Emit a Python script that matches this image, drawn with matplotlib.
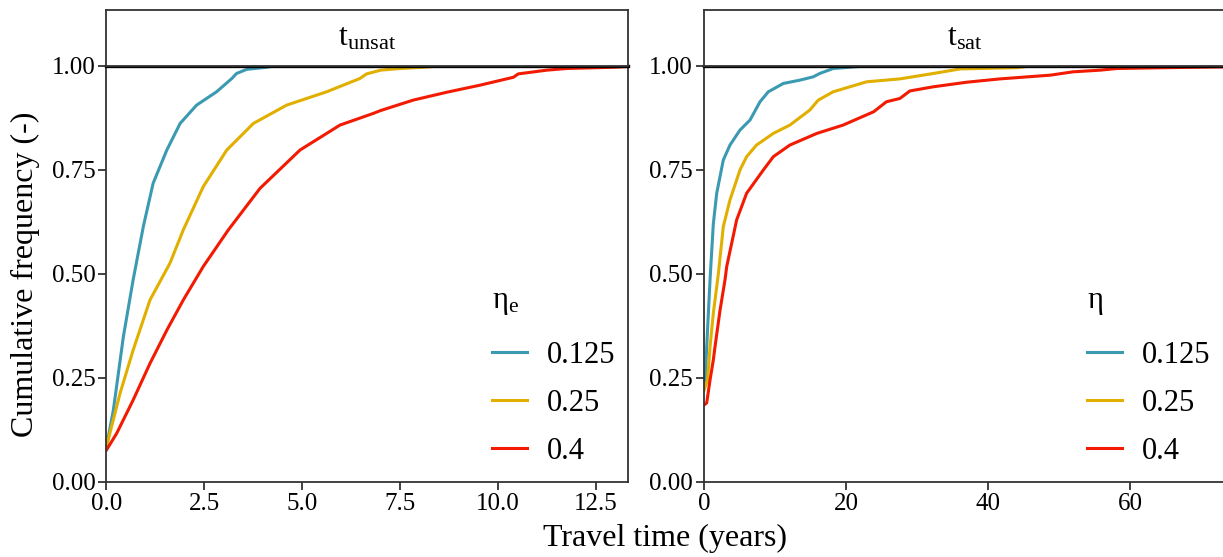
import numpy as np
import matplotlib
matplotlib.use("Agg")
import matplotlib.pyplot as plt

plt.rcParams['font.family'] = ['Liberation Serif', 'DejaVu Serif']
plt.rcParams['mathtext.fontset'] = 'custom'
plt.rcParams['mathtext.rm'] = 'Liberation Serif'
plt.rcParams['mathtext.it'] = 'Liberation Serif:italic'

# cumulative travel time curves, unsaturated zone (years, fraction)
unsat_t_0125 = [0.0, 0.175, 0.43, 0.68, 0.94, 1.19, 1.54, 1.88, 2.30, 2.81, 3.20, 3.32, 3.58, 4.09, 4.3, 13.4]
unsat_F_0125 = [0.085, 0.173, 0.349, 0.486, 0.614, 0.718, 0.798, 0.862, 0.906, 0.938, 0.970, 0.982, 0.992, 0.997, 1.0, 1.0]
unsat_t_025 = [0.0, 0.345, 0.68, 1.11, 1.62, 1.96, 2.47, 3.07, 3.75, 4.60, 5.62, 6.47, 6.64, 7.0, 7.49, 8.1, 8.5, 13.4]
unsat_F_025 = [0.085, 0.213, 0.317, 0.4375, 0.526, 0.606, 0.71, 0.798, 0.862, 0.906, 0.938, 0.970, 0.981, 0.990, 0.994, 0.997, 1.0, 1.0]
unsat_t_04 = [0.0, 0.26, 0.68, 1.11, 1.54, 1.96, 2.47, 3.11, 3.92, 4.94, 5.96, 6.81, 7.0, 7.83, 8.69,
              9.54, 10.39, 10.51, 11.24, 11.75, 12.94, 13.4]
unsat_F_04 = [0.077, 0.117, 0.197, 0.285, 0.365, 0.4375, 0.518, 0.606, 0.706, 0.798, 0.858, 0.886, 0.893, 0.918, 0.937,
              0.954, 0.973, 0.981, 0.990, 0.994, 0.997, 0.999]

# saturated zone
sat_t_0125 = [0.0, 0.19, 0.38, 0.85, 1.31, 1.79, 2.72, 3.66, 5.07, 6.48, 7.89, 9.06, 11.17, 13.5, 15.4, 16.3, 18.2, 22.0, 24.0, 74.0]
sat_F_0125 = [0.24, 0.25, 0.325, 0.486, 0.62, 0.694, 0.774, 0.81, 0.846, 0.87, 0.914, 0.938, 0.958, 0.966, 0.974, 0.982, 0.994, 0.999, 1.0, 1.0]
sat_t_025 = [0.0, 0.5, 0.85, 1.31, 2.02, 2.72, 3.66, 5.07, 6.0, 7.4, 9.77, 12.1, 14.9, 16.1, 18.2, 22.9, 27.6,
             32.3, 36.1, 44.1, 46.0, 74.0]
sat_F_025 = [0.22, 0.245, 0.325, 0.405, 0.5, 0.614, 0.678, 0.75, 0.782, 0.81, 0.838, 0.858, 0.894, 0.918, 0.938, 0.962, 0.969,
             0.982, 0.993, 0.996, 1.0, 1.0]
sat_t_04 = [0.0, 0.38, 0.85, 1.31, 1.55, 2.26, 2.96, 3.2, 4.6, 6.0, 8.36, 9.77, 12.1, 15.9, 19.6, 23.9, 25.7, 27.6, 29.0,
            32.3, 37.0, 41.7, 48.8, 52.0, 55.8, 58.2, 65.2, 74.0]
sat_F_04 = [0.185, 0.19, 0.245, 0.293, 0.325, 0.413, 0.486, 0.518, 0.63, 0.694, 0.75, 0.782, 0.81, 0.838, 0.858, 0.89, 0.914,
            0.922, 0.940, 0.950, 0.961, 0.969, 0.978, 0.986, 0.990, 0.994, 0.996, 0.998]

labels = ['0.125', '0.25', '0.4']
colors = ['#3B9AB2', '#E1AF00', '#F21A00']

W, H = 1223, 557
fig = plt.figure(figsize=(W / 100, H / 100), dpi=100)

def px(x0, y_top, w, h):
    return [x0 / W, 1 - (y_top + h) / H, w / W, h / H]

def style_panel(ax, xlim, xticks, xticklabels):
    ax.set_xlim(*xlim)
    ax.set_ylim(0, 1)
    ax.set_xticks(xticks)
    ax.set_xticklabels(xticklabels)
    ax.set_yticks([0, 0.25, 0.5, 0.75, 1.0])
    ax.set_yticklabels(['0.00', '0.25', '0.50', '0.75', '1.00'])
    ax.tick_params(labelsize=18, length=6, width=1.3, color='#333333', pad=2)
    for s in ax.spines.values():
        s.set_color('#333333')
        s.set_linewidth(1.3)
    ax.spines['top'].set_color('black')
    ax.spines['top'].set_linewidth(2.4)

def strip(rect, text):
    sax = fig.add_axes(rect)
    sax.set_xticks([])
    sax.set_yticks([])
    for s in sax.spines.values():
        s.set_color('#333333')
        s.set_linewidth(1.3)
    sax.text(0.5, 0.5, text, ha='center', va='center', fontsize=23, transform=sax.transAxes)

def add_legend(ax, title, x0):
    leg = ax.legend(title=title, loc='upper left', bbox_to_anchor=(x0, 0.47),
                    borderaxespad=0, borderpad=0,
                    frameon=False, fontsize=22, title_fontsize=22, handlelength=1.15, handletextpad=0.65,
                    labelspacing=0.62, alignment='left')
    leg._legend_box.sep = 17
    for ln in leg.get_lines():
        ln.set_linewidth(2.2)
    return leg

ax1 = fig.add_axes(px(106.5, 66, 521, 416))
for t, F, c, lab in zip([unsat_t_0125, unsat_t_025, unsat_t_04],
                        [unsat_F_0125, unsat_F_025, unsat_F_04], colors, labels):
    ax1.plot(t, F, color=c, lw=2.2, label=lab)
style_panel(ax1, (0, 13.3), [0, 2.5, 5, 7.5, 10, 12.5], ['0.0', '2.5', '5.0', '7.5', '10.0', '12.5'])
strip(px(106.5, 10, 521, 56), r'$\mathrm{t}_{\mathrm{unsat}}$')
add_legend(ax1, r'$\mathrm{η}_{\mathrm{e}}$', 0.740)

ax2 = fig.add_axes(px(704, 66, 521, 416))
for t, F, c, lab in zip([sat_t_0125, sat_t_025, sat_t_04],
                        [sat_F_0125, sat_F_025, sat_F_04], colors, labels):
    ax2.plot(t, F, color=c, lw=2.2, label=lab)
style_panel(ax2, (0, 73.4), [0, 20, 40, 60], ['0', '20', '40', '60'])
strip(px(704, 10, 521, 56), r'$\mathrm{t}_{\mathrm{sat}}$')
add_legend(ax2, r'$\mathrm{η}$', 0.735)

fig.text(665 / W, 1 - 538 / H, 'Travel time (years)', ha='center', va='center', fontsize=23)
fig.text(25 / W, 1 - 274 / H, 'Cumulative frequency (-)', ha='center', va='center', rotation=90, fontsize=23)

fig.savefig('out.png', dpi=100)
